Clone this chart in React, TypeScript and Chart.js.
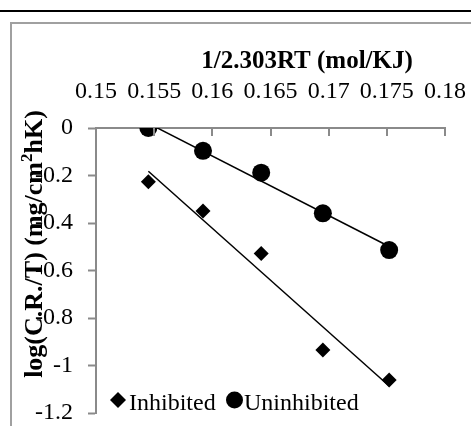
import React, { useEffect, useRef } from "react";
import { Chart, registerables } from "chart.js";

Chart.register(...registerables);

const xValues = [0.1545, 0.1592, 0.1642, 0.1695, 0.1752];
const inhibited = [-0.226, -0.349, -0.528, -0.935, -1.061];
const uninhibited = [0, -0.096, -0.188, -0.359, -0.514];
const seriesNames = ["Inhibited", "Uninhibited"];
const xTickValues = [0.15, 0.155, 0.16, 0.165, 0.17, 0.175, 0.18];
const xTickLabels = ["0.15", "0.155", "0.16", "0.165", "0.17", "0.175", "0.18"];
const yTickValues = [0, -0.2, -0.4, -0.6, -0.8, -1, -1.2];
const yTickLabels = ["0", "-0.2", "-0.4", "-0.6", "-0.8", "-1", "-1.2"];
const xTitle = "1/2.303RT (mol/KJ)";
const yTitleParts = ["log(C.R./T) (mg/cm", "2", "hK)"];

const FONT = "'Liberation Serif', 'Times New Roman', serif";
const GRAY = "#8a8a8a";

function fitLine(xs: number[], ys: number[]) {
  const n = xs.length;
  const mx = xs.reduce((a, b) => a + b, 0) / n;
  const my = ys.reduce((a, b) => a + b, 0) / n;
  let sxy = 0, sxx = 0;
  for (let i = 0; i < n; i++) {
    sxy += (xs[i] - mx) * (ys[i] - my);
    sxx += (xs[i] - mx) * (xs[i] - mx);
  }
  const m = sxy / sxx;
  const b = my - m * mx;
  const x0 = Math.min(...xs), x1 = Math.max(...xs);
  return [{ x: x0, y: m * x0 + b }, { x: x1, y: m * x1 + b }];
}

const decor = {
  id: "decor",
  afterDraw(chart: any) {
    const ctx = chart.ctx;
    const xs = chart.scales.x;
    const area = chart.chartArea;
    ctx.save();
    ctx.strokeStyle = GRAY;
    ctx.lineWidth = 2;
    xTickValues.forEach((v) => {
      const px = Math.round(xs.getPixelForValue(v));
      ctx.beginPath();
      ctx.moveTo(px, area.top);
      ctx.lineTo(px, area.top + 8);
      ctx.stroke();
    });
    ctx.fillStyle = "#000";
    ctx.font = `bold 25px ${FONT}`;
    ctx.textAlign = "center";
    ctx.textBaseline = "alphabetic";
    ctx.fillText(xTitle, 307, 68);
    const bigFont = `bold 26px ${FONT}`;
    const supFont = `bold 17px ${FONT}`;
    ctx.font = bigFont;
    const w0 = ctx.measureText(yTitleParts[0]).width;
    const w2 = ctx.measureText(yTitleParts[2]).width;
    ctx.font = supFont;
    const w1 = ctx.measureText(yTitleParts[1]).width;
    const total = w0 + w1 + w2;
    ctx.translate(42, 244);
    ctx.rotate(-Math.PI / 2);
    ctx.textAlign = "left";
    let cx = -total / 2;
    ctx.font = bigFont;
    ctx.fillText(yTitleParts[0], cx, 0);
    cx += w0;
    ctx.font = supFont;
    ctx.fillText(yTitleParts[1], cx, -10);
    cx += w1;
    ctx.font = bigFont;
    ctx.fillText(yTitleParts[2], cx, 0);
    ctx.setTransform(1, 0, 0, 1, 0, 0);
    ctx.fillStyle = "#000";
    ctx.beginPath();
    ctx.moveTo(118 - 8, 400);
    ctx.lineTo(118, 400 - 8);
    ctx.lineTo(118 + 8, 400);
    ctx.lineTo(118, 400 + 8);
    ctx.closePath();
    ctx.fill();
    ctx.font = `24px ${FONT}`;
    ctx.textAlign = "left";
    ctx.textBaseline = "alphabetic";
    ctx.fillText(seriesNames[0], 129, 410);
    ctx.beginPath();
    ctx.arc(234.5, 400, 8.5, 0, Math.PI * 2);
    ctx.fill();
    ctx.fillText(seriesNames[1], 244, 410);
    ctx.restore();
  },
};

export default function App() {
  const ref = useRef<HTMLCanvasElement | null>(null);
  useEffect(() => {
    let chart: any = null;
    let cancelled = false;
    const build = () => {
      if (cancelled || !ref.current) return;
      const inhPts = xValues.map((x, i) => ({ x, y: inhibited[i] }));
      const uniPts = xValues.map((x, i) => ({ x, y: uninhibited[i] }));
      chart = new Chart(ref.current, {
        type: "scatter",
        data: {
          datasets: [
            {
              label: "Inhibited trend",
              type: "line",
              data: fitLine(xValues, inhibited),
              borderColor: "#000",
              borderWidth: 1.5,
              pointRadius: 0,
              fill: false,
            },
            {
              label: "Uninhibited trend",
              type: "line",
              data: fitLine(xValues, uninhibited),
              borderColor: "#000",
              borderWidth: 1.5,
              pointRadius: 0,
              fill: false,
            },
            {
              label: seriesNames[0],
              data: inhPts,
              pointStyle: "rectRot",
              pointRadius: 7.5,
              backgroundColor: "#000",
              borderColor: "#000",
              borderWidth: 0,
              showLine: false,
            },
            {
              label: seriesNames[1],
              data: uniPts,
              pointStyle: "circle",
              pointRadius: 9,
              backgroundColor: "#000",
              borderColor: "#000",
              borderWidth: 0,
              showLine: false,
            },
          ],
        },
        options: {
          responsive: false,
          animation: false,
          devicePixelRatio: 1,
          layout: { padding: { left: 0, top: 0, right: 26, bottom: 13 } },
          plugins: { legend: { display: false }, tooltip: { enabled: false }, title: { display: false } },
          scales: {
            x: {
              type: "linear",
              position: "top",
              min: 0.15,
              max: 0.18,
              afterBuildTicks: (s: any) => { s.ticks = xTickValues.map((v) => ({ value: v })); },
              afterFit: (s: any) => { s.height = 128; s.paddingLeft = 0; s.paddingRight = 0; },
              ticks: {
                color: "#000",
                font: { family: FONT, size: 24 },
                padding: 22,
                maxRotation: 0,
                autoSkip: false,
                callback: (v: any) => {
                  const i = xTickValues.findIndex((t) => Math.abs(t - v) < 1e-9);
                  return i >= 0 ? xTickLabels[i] : "";
                },
              },
              grid: { drawOnChartArea: false, drawTicks: false },
              border: { color: GRAY, width: 2 },
            },
            y: {
              type: "linear",
              min: -1.2,
              max: 0,
              afterBuildTicks: (s: any) => { s.ticks = yTickValues.map((v) => ({ value: v })); },
              afterFit: (s: any) => { s.width = 96; s.paddingTop = 0; s.paddingBottom = 0; },
              ticks: {
                color: "#000",
                font: { family: FONT, size: 24 },
                padding: 15,
                autoSkip: false,
                callback: (v: any) => {
                  const i = yTickValues.findIndex((t) => Math.abs(t - v) < 1e-9);
                  return i >= 0 ? yTickLabels[i] : "";
                },
              },
              grid: { drawOnChartArea: false, drawTicks: true, tickLength: 8, tickColor: GRAY, tickWidth: 2 },
              border: { color: GRAY, width: 2 },
            },
          },
        },
        plugins: [decor],
      } as any);
    };
    const fonts: any = (document as any).fonts;
    if (fonts && fonts.load) {
      Promise.all([
        fonts.load(`24px "Liberation Serif"`),
        fonts.load(`bold 24px "Liberation Serif"`),
        fonts.load(`bold 16px "Liberation Serif"`),
      ]).then(build, build);
    } else {
      build();
    }
    return () => {
      cancelled = true;
      if (chart) chart.destroy();
    };
  }, []);

  return (
    <div style={{ position: "fixed", left: 0, top: 0, width: 471, height: 426, background: "#fff", overflow: "hidden", fontFamily: FONT }}>
      <div style={{ position: "absolute", left: 0, top: 10, width: 471, height: 2, background: "#000" }} />
      <div style={{ position: "absolute", left: 10, top: 22, width: 600, height: 600, border: "2px solid #a0a0a0", boxSizing: "border-box" }} />
      <span style={{ position: "absolute", left: -1000, top: 0, fontFamily: "'Liberation Serif'" }}>0 <b>0</b></span>
      <canvas ref={ref} width={471} height={426} style={{ position: "absolute", left: 0, top: 0 }} />
    </div>
  );
}
